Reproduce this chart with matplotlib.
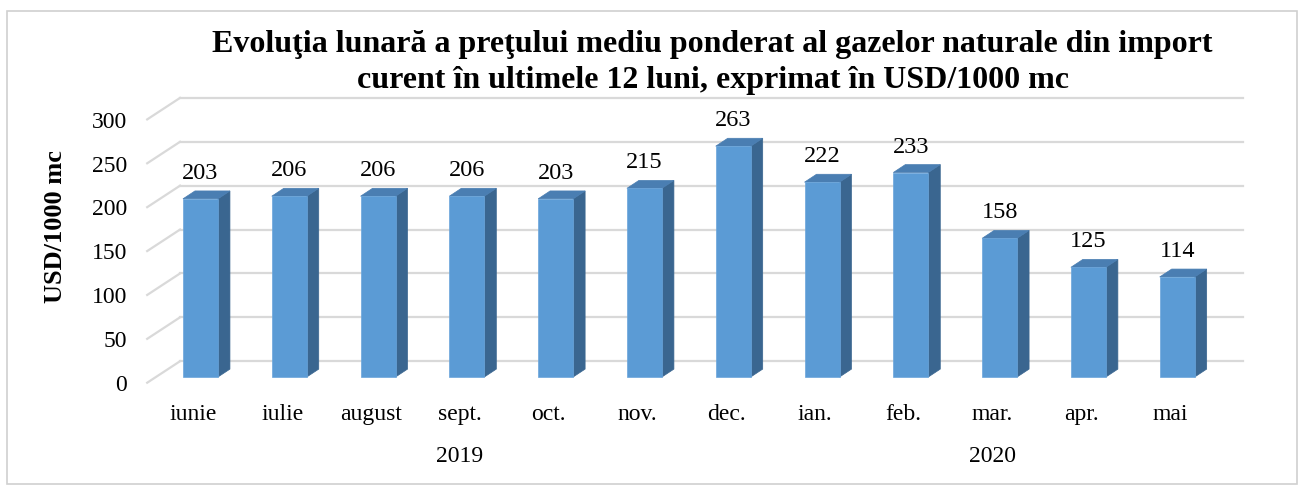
import numpy as np
import matplotlib
matplotlib.use("Agg")
import matplotlib.pyplot as plt
from matplotlib.patches import Polygon, Rectangle
from matplotlib.transforms import ScaledTranslation

months = ["iunie", "iulie", "august", "sept.", "oct.", "nov.", "dec.",
          "ian.", "feb.", "mar.", "apr.", "mai"]
prices = [203, 206, 206, 206, 203, 215, 263, 222, 233, 158, 125, 114]
years = ["2019", "2020"]
year_span = [7, 5]  # months in each year group
yticks = [0, 50, 100, 150, 200, 250, 300]
title_lines = ["Evoluţia lunară a preţului mediu ponderat al gazelor naturale din import",
               "curent în ultimele 12 luni, exprimat în USD/1000 mc"]

plt.rcParams["font.family"] = ["Liberation Serif", "DejaVu Serif"]

FRONT = "#5b9bd5"
TOP = "#4a7eb2"
SIDE = "#3a6690"
GRID = "#d9d9d9"

W, H = 1303, 488
fig = plt.figure(figsize=(W / 100, H / 100), dpi=100)
# light outer frame
fig.patches.append(Rectangle((7 / W, 4 / H), 1 - 13 / W, 1 - 15 / H, transform=fig.transFigure,
                             fill=False, edgecolor="#d0d0d0", lw=1.2))

# axes placed so that category i sits at 200.5 + 88.8*i px and value v at 377 - 0.877*v px
ax = fig.add_axes([140 / W, (H - 385) / H, 1110 / W, 295 / H])
ax.set_xlim(-0.681, 11.82)
ax.set_ylim(-9.1, 327)
for s in ax.spines.values():
    s.set_visible(False)

x = np.arange(len(months))
bw = 0.394        # bar front width (categories)
bdx, bdy = 0.135, 9.0   # bar depth offset
gdx, gdy = 0.37, 18.0   # wall depth offset
gx0, gx1 = -0.6, 11.74

# back-wall gridlines and left wall diagonals
for v in yticks:
    ax.plot([gx0 + gdx, gx1], [v + gdy, v + gdy], color=GRID, lw=1.6, zorder=1)
    ax.plot([gx0, gx0 + gdx], [v - 6.5, v + gdy], color=GRID, lw=1.6, zorder=1)

for xi, v in zip(x, prices):
    l, r = xi - bw / 2, xi + bw / 2
    ax.add_patch(Polygon([(r, 0), (r + bdx, bdy), (r + bdx, v + bdy), (r, v)],
                         closed=True, facecolor=SIDE, edgecolor=SIDE, lw=0.5, zorder=3))
    ax.add_patch(Polygon([(l, v), (l + bdx, v + bdy), (r + bdx, v + bdy), (r, v)],
                         closed=True, facecolor=TOP, edgecolor=TOP, lw=0.5, zorder=3))
    ax.add_patch(Rectangle((l, 0), bw, v, facecolor=FRONT, edgecolor="#6aa5db", lw=0.5, zorder=4))
    ax.text(xi, v + bdy + 8, f"{v}", ha="center", va="bottom", fontsize=17.5, zorder=5)

# value axis labels sit on the front plane, a little below the bar scale
ax.set_yticks([])
lab_tr = ax.get_yaxis_transform() + ScaledTranslation(-13 / 100, -6 / 100, fig.dpi_scale_trans)
for t in yticks:
    ax.text(0, t, str(t), ha="right", va="center_baseline", fontsize=17, transform=lab_tr)

ax.set_xticks(x - 0.08)
ax.set_xticklabels(months, fontsize=17)
ax.tick_params(axis="both", length=0)
ax.tick_params(axis="x", pad=14)

# year group labels below months
start = 0
for yr, n in zip(years, year_span):
    pos = np.mean(x[start:start + n]) - 0.08
    ax.text(pos, -91, yr, ha="center", va="center", fontsize=17, clip_on=False)
    start += n

ax.set_ylabel("USD/1000 mc", fontsize=19, fontweight="bold")
ax.yaxis.set_label_coords(-0.066, 0.536)

fig.text(0.547, 1 - 52 / H, title_lines[0], ha="center", va="baseline",
         fontsize=23, fontweight="bold")
fig.text(0.547, 1 - 88 / H, title_lines[1], ha="center", va="baseline",
         fontsize=23, fontweight="bold")

fig.savefig("out.png", dpi=100)
plt.close(fig)
